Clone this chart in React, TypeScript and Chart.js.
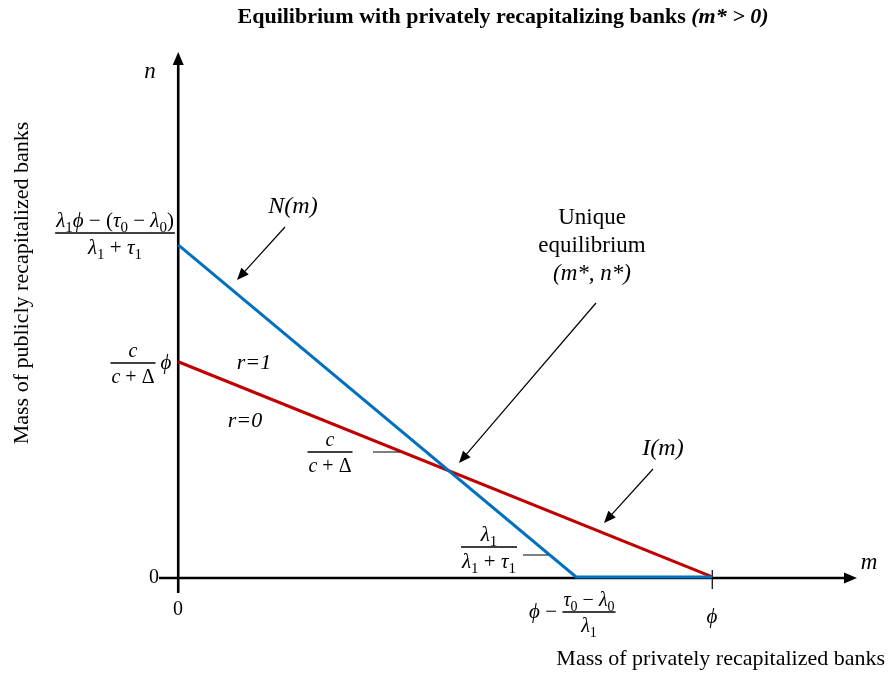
import { useEffect, useRef } from 'react';
import { Chart, registerables } from 'chart.js';

Chart.register(...registerables);

// ---- Data (conceptual diagram, units where phi = 1) ----
const nCurveM = [0, 0.745, 1];
const nCurveN = [0.622, 0, 0];
const iCurveM = [0, 1];
const iCurveN = [0.403, 0];
const xRange = [-0.036, 1.271];
const yRange = [-0.03, 0.983];

const TITLE = 'Equilibrium with privately recapitalizing banks ';
const TITLE_ITALIC = '(m* > 0)';
const X_TITLE = 'Mass of privately recapitalized banks';
const Y_TITLE = 'Mass of publicly recapitalized banks';

const SERIF = '"Liberation Serif", "Times New Roman", serif';

type Run = { t: string; i?: boolean; sub?: boolean };

function runFont(r: Run, size: number) {
  const s = r.sub ? Math.round(size * 0.7) : size;
  return `${r.i ? 'italic ' : ''}${s}px ${SERIF}`;
}
function runsWidth(ctx: CanvasRenderingContext2D, runs: Run[], size: number) {
  let w = 0;
  for (const r of runs) {
    ctx.font = runFont(r, size);
    w += ctx.measureText(r.t).width;
  }
  return w;
}
function drawRuns(ctx: CanvasRenderingContext2D, runs: Run[], x: number, y: number, size: number, align = 'center') {
  const w = runsWidth(ctx, runs, size);
  let cx = align === 'center' ? x - w / 2 : align === 'right' ? x - w : x;
  ctx.textAlign = 'left';
  ctx.textBaseline = 'alphabetic';
  for (const r of runs) {
    ctx.font = runFont(r, size);
    ctx.fillText(r.t, cx, r.sub ? y + size * 0.25 : y);
    cx += ctx.measureText(r.t).width;
  }
}
function drawFrac(ctx: CanvasRenderingContext2D, num: Run[], den: Run[], cx: number, barY: number, size: number) {
  const w = Math.max(runsWidth(ctx, num, size), runsWidth(ctx, den, size)) + 2;
  drawRuns(ctx, num, cx, barY - 6, size);
  drawRuns(ctx, den, cx, barY + size, size);
  ctx.beginPath();
  ctx.lineWidth = 1.6;
  ctx.moveTo(cx - w / 2, barY);
  ctx.lineTo(cx + w / 2, barY);
  ctx.stroke();
}
function drawArrow(ctx: CanvasRenderingContext2D, x1: number, y1: number, x2: number, y2: number, head = 12, width = 1.2, half = 5) {
  const a = Math.atan2(y2 - y1, x2 - x1);
  ctx.lineWidth = width;
  ctx.beginPath();
  ctx.moveTo(x1, y1);
  ctx.lineTo(x2 - Math.cos(a) * head * 0.8, y2 - Math.sin(a) * head * 0.8);
  ctx.stroke();
  ctx.beginPath();
  ctx.moveTo(x2, y2);
  ctx.lineTo(x2 - Math.cos(a) * head - Math.sin(a) * half, y2 - Math.sin(a) * head + Math.cos(a) * half);
  ctx.lineTo(x2 - Math.cos(a) * head + Math.sin(a) * half, y2 - Math.sin(a) * head - Math.cos(a) * half);
  ctx.closePath();
  ctx.fill();
}

const axesPlugin = {
  id: 'axesPlugin',
  beforeDatasetsDraw(chart: any) {
    const ctx = chart.ctx as CanvasRenderingContext2D;
    const xs = chart.scales.x;
    const ys = chart.scales.y;
    const ca = chart.chartArea;
    const x0 = xs.getPixelForValue(0);
    const y0 = ys.getPixelForValue(0) + 1;
    ctx.save();
    ctx.strokeStyle = '#000';
    ctx.fillStyle = '#000';
    ctx.lineCap = 'butt';
    drawArrow(ctx, x0, ca.bottom, x0, ca.top, 13, 2.6, 5.5);
    drawArrow(ctx, ca.left, y0, ca.right, y0, 13, 2.6, 5.5);
    const xp = xs.getPixelForValue(1);
    ctx.lineWidth = 1.2;
    ctx.beginPath();
    ctx.moveTo(xp, y0 - 8);
    ctx.lineTo(xp, y0 + 11);
    ctx.stroke();
    ctx.restore();
  },
  afterDatasetsDraw(chart: any) {
    const ctx = chart.ctx as CanvasRenderingContext2D;
    ctx.save();
    ctx.fillStyle = '#000';
    ctx.strokeStyle = '#000';
    // Title
    ctx.font = `bold 22px ${SERIF}`;
    const b1 = ctx.measureText(TITLE).width;
    ctx.font = `bold italic 22px ${SERIF}`;
    const b2 = ctx.measureText(TITLE_ITALIC).width;
    const tx = 503 - (b1 + b2) / 2;
    ctx.textAlign = 'left';
    ctx.textBaseline = 'alphabetic';
    ctx.font = `bold 22px ${SERIF}`;
    ctx.fillText(TITLE, tx, 23);
    ctx.font = `bold italic 22px ${SERIF}`;
    ctx.fillText(TITLE_ITALIC, tx + b1, 23);

    // Axis titles
    ctx.font = `22px ${SERIF}`;
    ctx.textAlign = 'right';
    ctx.fillText(X_TITLE, 885, 665);
    ctx.save();
    ctx.translate(28, 283);
    ctx.rotate(-Math.PI / 2);
    ctx.textAlign = 'center';
    ctx.fillText(Y_TITLE, 0, 0);
    ctx.restore();

    // Axis letters and zeros
    drawRuns(ctx, [{ t: 'n', i: true }], 150, 78, 23);
    drawRuns(ctx, [{ t: 'm', i: true }], 869, 569, 23);
    drawRuns(ctx, [{ t: '0' }], 154, 583, 20);
    drawRuns(ctx, [{ t: '0' }], 178, 615, 20);
    drawRuns(ctx, [{ t: 'ϕ', i: true }], 712, 623, 21);

    // Intercept labels
    drawFrac(ctx,
      [{ t: 'λ', i: true }, { t: '1', sub: true }, { t: 'ϕ', i: true }, { t: ' − (' }, { t: 'τ', i: true }, { t: '0', sub: true }, { t: ' − ' }, { t: 'λ', i: true }, { t: '0', sub: true }, { t: ')' }],
      [{ t: 'λ', i: true }, { t: '1', sub: true }, { t: ' + ' }, { t: 'τ', i: true }, { t: '1', sub: true }],
      115, 233, 21);
    drawFrac(ctx, [{ t: 'c', i: true }], [{ t: 'c', i: true }, { t: ' + Δ' }], 133, 363, 20);
    drawRuns(ctx, [{ t: 'ϕ', i: true }], 166, 369, 21);

    // phi - (tau0 - lambda0)/lambda1
    drawRuns(ctx, [{ t: 'ϕ', i: true }, { t: ' −' }], 543, 618, 21);
    drawFrac(ctx, [{ t: 'τ', i: true }, { t: '0', sub: true }, { t: ' − ' }, { t: 'λ', i: true }, { t: '0', sub: true }], [{ t: 'λ', i: true }, { t: '1', sub: true }], 589, 612, 20);

    // Slope labels
    drawFrac(ctx, [{ t: 'c', i: true }], [{ t: 'c', i: true }, { t: ' + Δ' }], 330, 452, 20);
    ctx.lineWidth = 1;
    ctx.beginPath();
    ctx.moveTo(373, 452);
    ctx.lineTo(400, 452);
    ctx.stroke();
    drawFrac(ctx, [{ t: 'λ', i: true }, { t: '1', sub: true }], [{ t: 'λ', i: true }, { t: '1', sub: true }, { t: ' + ' }, { t: 'τ', i: true }, { t: '1', sub: true }], 489, 547, 21);
    ctx.lineWidth = 1;
    ctx.beginPath();
    ctx.moveTo(523, 555);
    ctx.lineTo(548, 555);
    ctx.stroke();

    // Region labels
    drawRuns(ctx, [{ t: 'r=1', i: true }], 254, 369, 22);
    drawRuns(ctx, [{ t: 'r=0', i: true }], 245, 427, 22);

    // Curve labels and arrows
    drawRuns(ctx, [{ t: 'N(m)', i: true }], 293, 213, 24);
    drawArrow(ctx, 285, 227, 237, 280);
    drawRuns(ctx, [{ t: 'I(m)', i: true }], 663, 455, 24);
    drawArrow(ctx, 653, 469, 604, 523);

    drawRuns(ctx, [{ t: 'Unique' }], 592, 224, 23);
    drawRuns(ctx, [{ t: 'equilibrium' }], 592, 252, 23);
    drawRuns(ctx, [{ t: '(m*, n*)', i: true }], 592, 280, 23);
    drawArrow(ctx, 596, 303, 459, 463);

    ctx.restore();
  },
};

export default function App() {
  const ref = useRef<HTMLCanvasElement>(null);
  useEffect(() => {
    if (!ref.current) return;
    const chart = new Chart(ref.current, {
      type: 'line',
      data: {
        datasets: [
          {
            label: 'N(m)',
            data: nCurveM.map((m, i) => ({ x: m, y: nCurveN[i] })),
            borderColor: '#0070C0',
            borderWidth: 3,
            pointRadius: 0,
            tension: 0,
            fill: false,
          },
          {
            label: 'I(m)',
            data: iCurveM.map((m, i) => ({ x: m, y: iCurveN[i] })),
            borderColor: '#C00000',
            borderWidth: 3,
            pointRadius: 0,
            tension: 0,
            fill: false,
          },
        ],
      },
      options: {
        animation: false,
        responsive: false,
        devicePixelRatio: 1,
        layout: { padding: { left: 159, right: 32, top: 52, bottom: 83 } },
        plugins: { legend: { display: false }, title: { display: false }, tooltip: { enabled: false } },
        scales: {
          x: { type: 'linear', min: xRange[0], max: xRange[1], display: false },
          y: { type: 'linear', min: yRange[0], max: yRange[1], display: false },
        },
      },
      plugins: [axesPlugin],
    });
    return () => chart.destroy();
  }, []);
  return (
    <div style={{ position: 'absolute', left: 0, top: 0, width: 889, height: 676, background: '#fff' }}>
      <canvas ref={ref} width={889} height={676} style={{ display: 'block' }} />
    </div>
  );
}
